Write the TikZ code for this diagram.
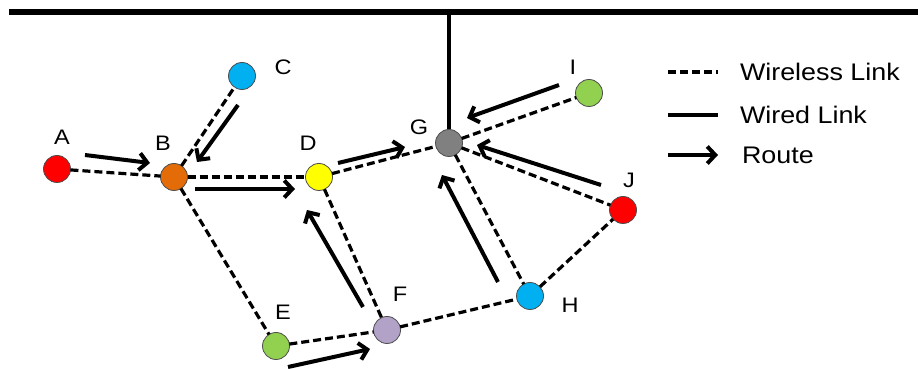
\documentclass[tikz,border=0pt]{standalone}
\usepackage{fontspec}
\setmainfont[FakeStretch=1.12]{Liberation Sans}
\usetikzlibrary{positioning,arrows.meta}
\definecolor{nred}{HTML}{FF0000}
\definecolor{norange}{HTML}{E36C09}
\definecolor{nblue}{HTML}{00B0F0}
\definecolor{nyellow}{HTML}{FFFF00}
\definecolor{ngreen}{HTML}{92D050}
\definecolor{nlilac}{HTML}{B3A2C7}
\definecolor{ngray}{HTML}{808080}

\begin{document}
\begin{tikzpicture}
[x=1pt,y=1pt,
 every node/.style={circle,draw=black!70,line width=0.8pt,minimum size=27pt,inner sep=0pt,outer sep=0pt},
 tag/.style={draw=none,rectangle,minimum size=0pt,font=\fontsize{21}{21}\selectfont},
 key/.style={draw=none,rectangle,minimum size=0pt,font=\fontsize{24}{24}\selectfont},
 wl/.style={line width=3.2pt,dash pattern=on 8pt off 4pt},
 wire/.style={line width=3.5pt},
 rt/.style={line width=4pt,-{Straight Barb[length=8pt,width=17pt]}}]
\useasboundingbox (0,0) rectangle (918,369);

% stations
\node[fill=nred]    (a) at (57,200) {};
\node[fill=norange] (b) [on grid,below right=8pt and 117pt of a]  {};
\node[fill=nblue]   (c) [on grid,above right=101pt and 68pt of b] {};
\node[fill=nyellow] (d) [on grid,right=145pt of b]                {};
\node[fill=ngray]   (g) [on grid,above right=34pt and 130pt of d] {};
\node[fill=ngreen]  (i) [on grid,above right=50pt and 140pt of g] {};
\node[fill=nred]    (j) [on grid,below right=67pt and 174pt of g] {};
\node[fill=nblue]   (h) [on grid,below right=153pt and 81pt of g] {};
\node[fill=nlilac]  (f) [on grid,below right=153pt and 68pt of d] {};
\node[fill=ngreen]  (e) [on grid,below left=16pt and 111pt of f]  {};

% names
\node[tag] (la) [on grid,above right=32pt and 5pt of a]  {A};
\node[tag] (lb) [on grid,above left=34pt and 11pt of b]  {B};
\node[tag] (lc) [on grid,above right=9pt and 41pt of c]  {C};
\node[tag] (ld) [on grid,above left=34pt and 11pt of d]  {D};
\node[tag] (lg) [on grid,above left=16pt and 30pt of g]  {G};
\node[tag] (li) [on grid,above left=26pt and 16pt of i]  {I};
\node[tag] (lj) [on grid,above right=30pt and 6pt of j]  {J};
\node[tag] (le) [on grid,above right=34pt and 7pt of e]  {E};
\node[tag] (lf) [on grid,above right=36pt and 13pt of f] {F};
\node[tag] (lh) [on grid,below right=9pt and 40pt of h]  {H};

% wired backbone
\coordinate (busL) at (9,357);
\coordinate (busR) at (918,357);
\draw[line width=6pt] (busL) -- (busR);
\draw[wire] (g) -- (g |- busL);

% wireless links
\path[wl] (a) edge (b);
\path[wl] (b) edge (c);
\path[wl] (b) edge (d);
\path[wl] (b) edge (e);
\path[wl] (d) edge (g);
\path[wl] (d) edge (f);
\path[wl] (e) edge (f);
\path[wl] (f) edge (h);
\path[wl] (g) edge (h);
\path[wl] (g) edge (i);
\path[wl] (g) edge (j);
\path[wl] (h) edge (j);

% routes
\coordinate (ab0) at (85,214);  \coordinate (ab1) at (150,206);
\coordinate (cb0) at (238,264); \coordinate (cb1) at (197,207);
\coordinate (bd0) at (195,180); \coordinate (bd1) at (295,180);
\coordinate (dg0) at (338,206); \coordinate (dg1) at (405,222);
\coordinate (ig0) at (559,284); \coordinate (ig1) at (467,251);
\coordinate (jg0) at (601,184); \coordinate (jg1) at (477,224);
\coordinate (hg0) at (498,87);  \coordinate (hg1) at (442,194);
\coordinate (fd0) at (363,62);  \coordinate (fd1) at (307,159);
\coordinate (ef0) at (288,2);   \coordinate (ef1) at (370,20);
\path[rt] (ab0) edge (ab1);
\path[rt] (cb0) edge (cb1);
\path[rt] (bd0) edge (bd1);
\path[rt] (dg0) edge (dg1);
\path[rt] (ig0) edge (ig1);
\path[rt] (jg0) edge (jg1);
\path[rt] (hg0) edge (hg1);
\path[rt] (fd0) edge (fd1);
\path[rt] (ef0) edge (ef1);

% legend
\coordinate (k1a) at (668,297); \coordinate (k1b) at (718,297);
\coordinate (k2a) at (668,254); \coordinate (k2b) at (718,254);
\coordinate (k3a) at (668,214); \coordinate (k3b) at (718,214);
\path[wl]   (k1a) edge (k1b);
\path[wire] (k2a) edge (k2b);
\path[rt]   (k3a) edge (k3b);
\node[key] (k1) [right=22pt of k1b] {Wireless Link};
\node[key] (k2) [right=22pt of k2b] {Wired Link};
\node[key] (k3) [right=24pt of k3b] {Route};
\end{tikzpicture}
\end{document}
